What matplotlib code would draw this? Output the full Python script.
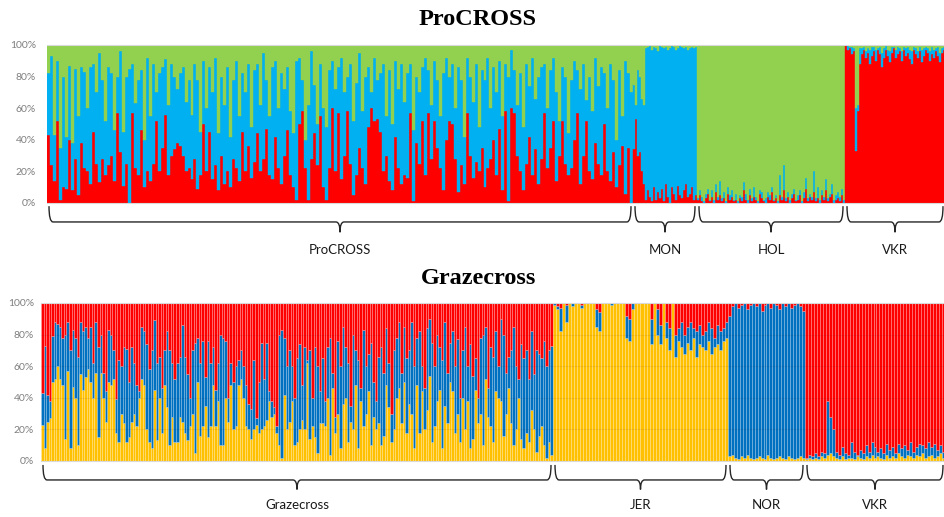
import numpy as np
import matplotlib.pyplot as plt
from matplotlib.path import Path
from matplotlib.patches import PathPatch
import matplotlib.transforms as mtransforms

# ---- ProCROSS panel: (red %, red+blue %) per animal, green fills the rest ----
procross = [
    (43,82),(24,93),(14,43),(52,90),(2,35),(10,80),(9,42),(40,87),(8,38),(28,85),
    (5,55),(38,86),(22,83),(20,60),(12,86),(45,88),(25,70),(13,95),(28,78),(18,52),
    (24,86),(30,82),(14,46),(57,80),(32,96),(11,45),(25,80),(0,85),(57,88),(22,63),
    (18,78),(46,84),(10,40),(20,92),(14,55),(25,88),(52,70),(20,82),(35,86),(56,91),
    (18,62),(30,88),(34,80),(38,72),(36,82),(30,86),(20,64),(22,78),(15,56),(28,88),
    (9,78),(18,45),(50,90),(20,60),(45,86),(15,70),(24,92),(8,44),(30,80),(12,62),
    (20,86),(10,42),(28,78),(22,90),(14,55),(45,82),(20,70),(36,88),(16,48),(26,84),
    (44,88),(20,62),(28,95),(47,78),(18,55),(15,86),(42,90),(22,60),(12,82),(30,72),
    (46,86),(18,58),(10,44),(2,90),(50,92),(58,78),(22,40),(2,62),(28,96),(44,75),
    (24,50),(55,88),(10,60),(2,48),(22,84),(60,90),
    (20,72),(57,86),(15,92),(30,70),(58,80),(25,88),(5,52),(18,76),(35,95),(22,58),
    (12,80),(48,86),(60,70),(52,92),(53,78),(45,82),(20,88),(30,55),(14,84),(8,50),
    (42,90),(22,72),(12,88),(18,64),(16,82),(57,88),(1,46),(38,80),(25,70),(52,86),
    (18,92),(57,84),(28,62),(52,90),(35,78),(22,55),(8,82),(40,92),(52,80),(50,88),
    (28,60),(7,86),(24,78),(12,42),(57,92),(30,80),(16,64),(26,88),(20,48),(35,84),
    (10,78),(22,92),(28,60),(40,86),(18,70),(47,90),(8,55),(58,88),(1,80),(60,97),
    (57,84),(30,62),(20,82),(8,48),(25,88),(42,74),(18,92),(34,66),(12,80),(28,86),
    (57,88),(22,60),(35,84),(52,92),(14,70),(30,52),(52,86),(25,80),(18,44),(22,78),
    (40,90),(57,84),(12,72),(30,88),(52,65),(20,80),(15,58),(38,92),(25,74),(18,86),
    (50,82),(20,60),(14,88),(32,78),(10,40),(24,84),(36,55),(6,90),(35,82),(0,70),
]
mon = [
    (34,75),(53,62),(30,84),(32,80),(20,66),(12,62),(2,98),(8,99),(4,100),(1,97),
    (10,99),(2,98),(7,96),(3,100),(9,99),(1,98),(12,99),(4,97),(0,98),(10,100),
    (6,99),(2,97),(11,98),(5,100),(3,99),(8,98),(12,99),(4,97),(6,98),(10,99),(2,98),(5,99),
]
hol = [
    (2,3),(5,8),(1,4),(0,1),(3,6),(6,9),(1,2),(4,8),(0,2),(7,12),
    (2,4),(5,14),(1,3),(3,7),(0,1),(6,10),(2,5),(4,8),(1,2),(2,6),
    (0,1),(3,5),(1,4),(8,13),(2,6),(0,2),(5,9),(1,3),(4,10),(2,4),
    (0,1),(6,8),(3,7),(1,2),(0,3),(4,7),(2,5),(7,10),(1,2),(3,5),
    (0,1),(5,18),(2,4),(8,24),(1,3),(4,7),(0,2),(3,6),(6,9),(1,2),
    (2,5),(5,8),(0,1),(3,7),(9,16),(1,3),(4,6),(2,4),(7,20),(1,3),
    (3,10),(0,2),(5,8),(2,4),(8,15),(1,3),(4,6),(6,12),(0,2),(2,5),
    (3,7),(1,4),(5,9),(0,2),
]
vkr_top = [
    (100,100),(97,100),(98,99),(94,99),(96,98),(33,60),(58,62),(88,98),(94,98),(97,99),
    (92,96),(95,98),(88,97),(93,99),(96,99),(90,97),(97,98),(94,99),(86,95),(92,98),
    (97,100),(93,97),(89,96),(95,99),(98,99),(92,97),(94,99),(96,98),(90,96),(97,99),
    (93,98),(95,99),(91,97),(88,96),(97,99),(94,98),(92,96),(96,99),(89,97),(93,98),
    (97,99),(95,98),(90,96),(94,99),(92,97),(96,98),(93,99),(89,95),(95,98),(97,99),
]

# ---- Grazecross panel: (yellow %, yellow+blue %) per animal, red fills the rest ----
grazecross = [
    (23,43),(8,73),(25,42),(27,38),(50,79),(52,88),(60,87),(52,85),(48,78),(14,80),
    (57,88),(8,70),(47,83),(40,78),(10,66),(55,88),(45,82),(53,85),(58,78),(50,85),
    (40,62),(56,88),(15,72),(56,80),(40,56),(25,44),(50,83),(48,80),(52,70),(18,39),
    (12,64),(30,60),(24,72),(12,71),(15,50),(25,72),(30,62),(22,48),(40,44),(52,85),
    (48,82),(20,74),(12,58),(8,70),(45,89),(13,62),(40,66),(18,46),(48,70),(34,82),
    (10,70),(28,62),(12,52),(12,62),(28,66),(25,86),(18,66),(13,55),(22,40),(30,70),
    (5,75),(50,78),(16,62),(22,76),(35,53),(15,76),(22,62),(48,72),(22,45),(38,62),
    (10,80),(10,78),(40,76),(25,40),(48,62),(20,50),(22,60),(48,64),(52,70),(40,60),
    (22,48),(20,36),(14,33),(20,64),(23,27),(18,50),(20,75),(22,52),(26,75),(38,44),
    (28,38),(30,34),(18,22),(10,80),(2,83),(42,78),(20,60),(25,70),(38,60),(10,40),
    (12,65),(20,74),(26,48),(20,72),(62,64),(14,70),(22,40),(15,72),(5,60),(24,44),
    (24,65),
    (22,38),(40,72),(4,78),(46,56),(18,28),(30,76),(8,60),(36,85),(40,72),(12,62),
    (25,35),(20,80),(48,70),(8,64),(38,46),(22,83),(30,60),(44,68),(10,75),(28,50),
    (20,38),(24,66),(10,72),(16,56),(48,84),(34,62),(12,30),(20,70),(40,78),(46,88),
    (24,56),(50,85),(18,65),(36,70),(30,88),(8,60),(48,78),(18,82),(44,60),(20,46),
    (32,84),(54,90),(12,75),(22,60),(38,80),(45,72),(8,64),(35,88),(24,56),(50,75),
    (44,82),(18,60),(30,77),(12,40),(40,70),(20,85),(38,60),(8,74),(14,54),(45,65),
    (24,40),(30,78),(10,80),(52,85),(28,46),(22,72),(12,66),(44,82),(40,60),(38,90),
    (16,80),(30,56),(46,66),(24,70),(10,85),(20,60),(40,52),(14,74),(8,65),(18,70),
    (12,52),(32,82),(20,55),(6,70),(16,68),(22,65),(10,76),(2,60),(12,70),(4,73),
]
jer = [
    (99,100),(96,98),(82,97),(100,100),(88,99),(100,100),(98,100),(100,100),(100,100),(97,99),
    (100,100),(100,100),(100,100),(100,100),(85,96),(82,94),(100,100),(100,100),(100,100),(99,100),
    (100,100),(100,100),(100,100),(100,100),(78,92),(76,90),(96,100),(100,100),(100,100),(100,100),
    (100,100),(100,100),
    (74,90),(100,100),(80,96),(74,86),(100,100),(78,88),(70,84),(100,100),(66,80),(76,84),
    (72,88),(68,80),(75,85),(70,88),(78,84),(66,82),(74,86),(72,80),(70,82),(76,88),
    (68,84),(72,78),(74,86),(70,82),(76,84),(78,88),
]
nor = [
    (3,92),(4,98),(2,100),(1,97),(3,99),(2,100),(4,96),(2,99),(1,100),(2,98),
    (3,100),(2,95),(1,99),(4,100),(2,97),(1,100),(2,99),(3,96),(2,100),(1,98),
    (3,100),(2,97),(1,99),(2,100),(3,98),(2,95),
]
vkr_bot = [
    (1,2),(2,4),(1,3),(2,5),(1,3),(3,6),(2,5),(4,38),(5,28),(3,20),
    (2,6),(1,4),(3,9),(1,5),(2,4),(2,12),(1,6),(3,4),(2,7),(1,5),
    (3,10),(2,6),(4,12),(2,9),(3,6),(2,8),(1,5),(4,11),(2,7),(3,9),
    (2,5),(5,11),(3,8),(2,10),(4,7),(3,12),(2,6),(4,9),(3,11),(5,10),
    (2,8),(3,12),(4,9),(2,11),(3,7),(5,10),(2,6),
]

top_labels = ['ProCROSS', 'MON', 'HOL', 'VKR']
bot_labels = ['Grazecross', 'JER', 'NOR', 'VKR']
# horizontal room each group takes (pixels in the original figure)
top_spans = [586, 64, 148, 100]
bot_spans = [512, 175, 77, 140]

top_colors = ['#FF0000', '#00B0F0', '#92D050']
bot_colors = ['#FFC000', '#0070C0', '#FF0000']


def brace(ax, xa, xb, y_end, y_line, y_tip, d=4):
    tr = mtransforms.blended_transform_factory(ax.transData, ax.transAxes)
    mid = (xa + xb) / 2
    verts = [(xa, y_end), (xa, y_line), (xa + d, y_line),
             (mid - d, y_line), (mid, y_line), (mid, y_tip),
             (mid, y_line), (mid + d, y_line),
             (xb - d, y_line), (xb, y_line), (xb, y_end)]
    codes = [Path.MOVETO, Path.CURVE3, Path.CURVE3,
             Path.LINETO, Path.CURVE3, Path.CURVE3,
             Path.CURVE3, Path.CURVE3,
             Path.LINETO, Path.CURVE3, Path.CURVE3]
    ax.add_patch(PathPatch(Path(verts, codes), transform=tr, fill=False,
                           edgecolor='#262626', lw=1.0, clip_on=False))


def draw_panel(ax, groups, spans, labels, colors, striped, yb, pad):
    x0 = 0
    for pairs, span, lab in zip(groups, spans, labels):
        arr = np.array(pairs, dtype=float)
        n = len(arr)
        w = span / n
        x = x0 + np.arange(n) * w
        low = arr[:, 0]
        mid = np.maximum(arr[:, 1], low)
        parts = [(low, 0), (mid - low, low), (100 - mid, mid)]
        for (h, b), c in zip(parts, colors):
            if striped:
                ax.bar(x, h, bottom=b, width=w, align='edge', color=c,
                       edgecolor=(1, 1, 1, 0.25), lw=0.5)
            else:
                ax.bar(x, h, bottom=b, width=w, align='edge', color=c,
                       edgecolor=c, lw=0.3)
        brace(ax, x0 + 2, x0 + span - 2, yb[0], yb[1], yb[2])
        tr = mtransforms.blended_transform_factory(ax.transData, ax.transAxes)
        ax.text(x0 + span / 2, yb[3], lab, transform=tr, ha='center', va='center',
                fontsize=9.5, family='Lato', color='#1a1a1a')
        x0 += span
    ax.set_xlim(0, x0)
    ax.set_ylim(0, 100)
    ax.set_xticks([])
    ax.set_yticks(range(0, 101, 20))
    ax.set_yticklabels([f'{v}%' for v in range(0, 101, 20)], family='Lato')
    ax.tick_params(axis='y', length=0, labelsize=7.5, labelcolor='#7f7f7f', pad=pad)
    for s in ['left', 'right']:
        ax.spines[s].set_visible(False)
    for s in ['top', 'bottom']:
        ax.spines[s].set_color('#d9d9d9')
        ax.spines[s].set_linewidth(0.8)


fig = plt.figure(figsize=(9.45, 5.17), dpi=100)
ax1 = fig.add_axes([47 / 945, 1 - 203 / 517, 898 / 945, 158 / 517])
ax2 = fig.add_axes([41 / 945, 1 - 461 / 517, 904 / 945, 158 / 517])

draw_panel(ax1, [procross, mon, hol, vkr_top], top_spans, top_labels, top_colors,
           False, (-0.02, -0.12, -0.185, -0.30), 8)
draw_panel(ax2, [grazecross, jer, nor, vkr_bot], bot_spans, bot_labels, bot_colors,
           True, (-0.025, -0.12, -0.18, -0.28), 5)

for v in range(20, 100, 20):
    ax2.axhline(v, color='black', alpha=0.06, lw=0.8, zorder=5)

fig.text(0.505, 0.962, 'ProCROSS', ha='center', va='center', fontsize=17.5,
         fontweight='bold', family='Liberation Serif')
fig.text(0.506, 0.462, 'Grazecross', ha='center', va='center', fontsize=17.5,
         fontweight='bold', family='Liberation Serif')

fig.savefig('out.png', dpi=100)
